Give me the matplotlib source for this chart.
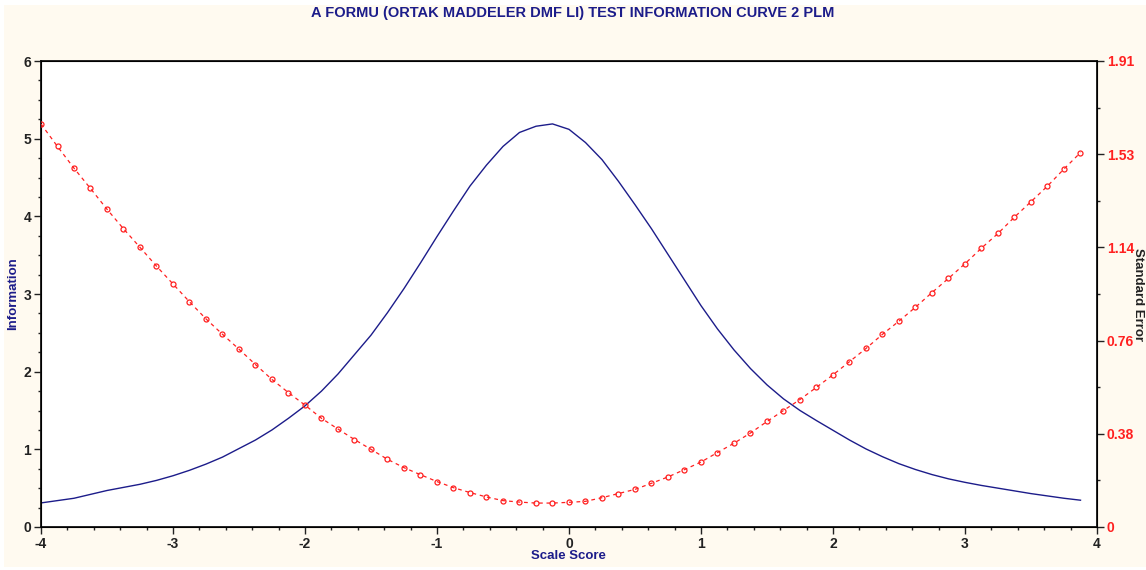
import matplotlib.pyplot as plt
import matplotlib.patches as mpatches
import numpy as np

### DATA ###

# scale score grid, one point every 0.125
theta = np.arange(-4.0, 4.0, 0.125)

# test information (left axis)
info = [0.31, 0.34, 0.37, 0.42, 0.47, 0.51, 0.55, 0.60,
        0.66, 0.73, 0.81, 0.90, 1.01, 1.12, 1.25, 1.40,
        1.56, 1.75, 1.97, 2.22, 2.47, 2.76, 3.07, 3.40,
        3.74, 4.07, 4.39, 4.66, 4.90, 5.08, 5.16, 5.19,
        5.12, 4.95, 4.73, 4.45, 4.15, 3.84, 3.51, 3.18,
        2.85, 2.55, 2.28, 2.04, 1.83, 1.65, 1.50, 1.37,
        1.245, 1.12, 1.005, 0.905, 0.815, 0.74, 0.675, 0.62,
        0.575, 0.535, 0.50, 0.465, 0.43, 0.40, 0.37, 0.345]

# standard error (right axis)
se = [1.650, 1.558, 1.469, 1.386, 1.301, 1.221, 1.145, 1.068,
      0.995, 0.922, 0.852, 0.789, 0.728, 0.665, 0.604, 0.550,
      0.499, 0.445, 0.401, 0.358, 0.318, 0.277, 0.243, 0.214,
      0.186, 0.161, 0.141, 0.123, 0.108, 0.102, 0.098, 0.098,
      0.101, 0.105, 0.120, 0.137, 0.154, 0.179, 0.205, 0.235,
      0.266, 0.305, 0.343, 0.385, 0.432, 0.477, 0.522, 0.572,
      0.623, 0.677, 0.731, 0.789, 0.843, 0.900, 0.960, 1.018,
      1.078, 1.142, 1.202, 1.269, 1.332, 1.396, 1.466, 1.533]

se_max = 1.908
se_ticks = [0, 0.3816, 0.7632, 1.1448, 1.5264, 1.908]
se_labels = ['0', '0.38', '0.76', '1.14', '1.53', '1.91']

title = "A FORMU (ORTAK MADDELER DMF LI) TEST INFORMATION CURVE 2 PLM"

### PLOT ###

plt.rcParams['font.family'] = ['Liberation Sans', 'DejaVu Sans']
plt.rcParams['axes.unicode_minus'] = False
navy = '#1c1c8a'
cream = '#fffaf0'
W, H = 1146, 570

fig = plt.figure(figsize=(11.46, 5.70), dpi=100, facecolor='white')
fig.patches.append(mpatches.Rectangle((4 / W, 3 / H), 1142 / W, 562 / H,
                                      transform=fig.transFigure, facecolor=cream,
                                      edgecolor='none', zorder=-10))

ax = fig.add_axes([41 / W, 1 - 527 / H, 1056 / W, 466 / H])
ax.set_facecolor('white')
ax.plot(theta, info, color=navy, lw=1.0, zorder=3)
ax.set_xlim(-4, 4)
ax.set_ylim(0, 6)
ax.set_xticks(np.arange(-4, 5, 1))
ax.set_xticks(np.arange(-4, 4.01, 0.2), minor=True)
ax.set_yticks(np.arange(0, 7, 1))
ax.set_yticks(np.arange(0, 6.01, 0.25), minor=True)
ax.tick_params(which='major', length=5, width=1, labelsize=10, colors='#222222', pad=2)
ax.tick_params(which='minor', length=2.5, width=1, colors='#222222')
for lab in ax.get_xticklabels() + ax.get_yticklabels():
    lab.set_fontweight('bold')
for sp in ax.spines.values():
    sp.set_linewidth(1.3)
    sp.set_color('#111111')

ax2 = ax.twinx()
ax2.plot(theta, se, color='#ff2020', lw=0.9, ls=(0, (3, 3)), marker='o',
         markersize=3.6, markerfacecolor='none', markeredgecolor='#ff2020',
         markeredgewidth=0.9, zorder=4)
ax2.set_ylim(0, se_max)
ax2.set_yticks(se_ticks)
ax2.set_yticklabels(se_labels)
ax2.set_yticks(np.arange(0.1908, se_max, 0.3816), minor=True)
ax2.tick_params(which='major', length=5, width=1, labelsize=10, labelcolor='#ff2020',
                color='#222222', pad=2)
ax2.tick_params(which='minor', length=2.5, width=1, color='#222222')
for lab in ax2.get_yticklabels():
    lab.set_fontweight('bold')

# axis titles placed in figure pixels, like the reference
fig.text(568 / W, 1 - 556 / H, "Scale Score", ha='center', va='center',
         color=navy, fontweight='bold', fontsize=9.5)
fig.text(13 / W, 1 - 294 / H, "Information", ha='center', va='center',
         rotation=90, color=navy, fontweight='bold', fontsize=9.5)
fig.text(1138 / W, 1 - 294 / H, "Standard Error", ha='center', va='center',
         rotation=-90, color='#222222', fontweight='bold', fontsize=9.5)

fig.text(0.5, 1 - 13 / H, title, ha='center', va='center', color=navy,
         fontweight='bold', fontsize=10.5)

plt.savefig("out.png", dpi=100, facecolor=fig.get_facecolor())
